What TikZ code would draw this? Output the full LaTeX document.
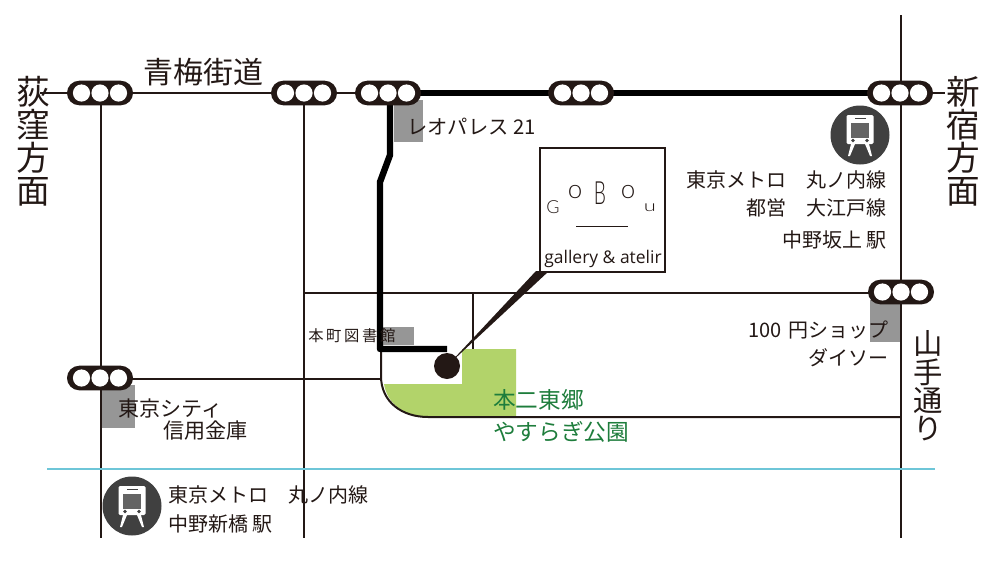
\documentclass[tikz,border=0pt]{standalone}
\usepackage{fontspec}
\setmainfont{Noto Sans CJK JP}
\newfontfamily\logofont{Lato Light}
\newfontfamily\latinfont{Open Sans}
\usepackage{tikz}
\usetikzlibrary{positioning,calc}
\definecolor{signalcolor}{RGB}{35,24,21}
\definecolor{iconcolor}{RGB}{64,64,64}
\definecolor{windowcolor}{RGB}{100,100,100}
\definecolor{shopcolor}{RGB}{150,150,150}
\definecolor{parkcolor}{RGB}{178,211,106}
\definecolor{parktext}{RGB}{30,125,60}
\definecolor{rivercolor}{RGB}{110,198,216}
\newcommand{\sized}[1]{\fontsize{#1}{#1}\selectfont}
\tikzset{
    road/.style={draw=signalcolor, line width=1.5pt},
    route/.style={draw=black, line width=4.8pt, line join=round},
    shop/.style={fill=shopcolor},
    lbl/.style={inner sep=0pt, text=signalcolor, font=\sized{15pt}},
    vlbl/.style={inner sep=0pt, text=signalcolor, align=center, font=\fontsize{25.2pt}{24.8pt}\selectfont},
    logoletter/.style={inner sep=0pt, text=signalcolor, font=\logofont\sized{19.5pt}},
    pics/signal/.style={code={
        \fill[signalcolor, rounded corners=9.2pt] (-33,-12.3) rectangle (33,12.3);
        \foreach \dx in {-18.5,0,18.5} {
            \fill[white] (\dx,0) circle (8.6);
        }
    }},
    pics/trainicon/.style={code={
        \fill[iconcolor] (0,0) circle (29.5);
        \fill[white, rounded corners=1pt] (-13.5,-20) rectangle (13.5,9);
        \fill[windowcolor] (-9,-12.5) rectangle (9,3);
        \fill[iconcolor] (-5.5,-17.5) rectangle (5.5,-16);
        \fill[iconcolor] (-7,5.5) circle (1.9);
        \fill[iconcolor] (7,5.5) circle (1.9);
        \fill[white] (-9,9) -- (-5,9) -- (-10,21) -- (-12,21) -- cycle;
        \fill[white] (9,9) -- (5,9) -- (10,21) -- (12,21) -- cycle;
    }},
}
\begin{document}
\begin{tikzpicture}[x=0.75pt, y=-0.75pt]

    \useasboundingbox (0,0) rectangle (1000,561);

    % ---------------------------------------------------------------
    % PARK AND SHOP MARKERS
    % ---------------------------------------------------------------

    \fill[parkcolor] (384,384) -- (462,384) -- (462,349) -- (516,349) -- (516,416) -- (424,416)
        .. controls (402,416) and (387,402) .. cycle;
    \fill[shop] (394,100) rectangle (423,142);
    \fill[shop] (870,300) rectangle (901,342);
    \fill[shop] (101,385) rectangle (135,428);
    \fill[shop] (381,326.5) rectangle (414,345);

    % ---------------------------------------------------------------
    % ROADS
    % ---------------------------------------------------------------

    \draw[road] (40,93) -- (945,93);
    \foreach \x in {101,304} {
        \draw[road] (\x,93) -- (\x,538);
    }
    \draw[road] (901,15) -- (901,538);
    \draw[road] (304,293) -- (901,293);
    \draw[road] (473,293) -- (473,349);
    \draw[road] (101,378.5) -- (381,378.5);
    \draw[road] (381,293) -- (381,376) .. controls (381,402) and (402,417) .. (428,417) -- (901,417);
    \draw[rivercolor, line width=1.5pt] (47,468.5) -- (935,468.5);

    % ---------------------------------------------------------------
    % ROUTE
    % ---------------------------------------------------------------

    \draw[route] (390,93) -- (900,93);
    \draw[route] (390,93) -- (390,155) -- (380,182) -- (380,349) -- (447,349);
    \fill[signalcolor] (447,366) -- (536,271) -- (549,271) -- cycle;
    \fill[signalcolor] (447,366) circle (13);

    % ---------------------------------------------------------------
    % SIGNALS
    % ---------------------------------------------------------------

    \foreach \x/\y in {100/93,304/93,388/93,581/93,900/93,901/292,100/378} {
        \pic at (\x,\y) {signal};
    }

    % ---------------------------------------------------------------
    % STATIONS
    % ---------------------------------------------------------------

    \pic at (860,135) {trainicon};
    \pic at (132,506) {trainicon};

    % ---------------------------------------------------------------
    % LOGO BOX
    % ---------------------------------------------------------------

    \draw[signalcolor, line width=1.5pt, fill=white] (540,148) rectangle (665,272);
    \node[logoletter, font=\logofont\sized{13.5pt}] (logoG) at (553,207) {G};
    \node[logoletter] (logoOa) at (575,192) {o};
    \node[logoletter, font=\logofont\sized{24pt}, xscale=0.6] (logoB) at (600,193) {B};
    \node[logoletter] (logoOb) at (628,192) {o};
    \node[logoletter, font=\logofont\sized{16.5pt}, yscale=0.7] (logoU) at (650,208) {u};
    \draw[signalcolor, line width=0.6pt] (576,226) -- (628,226);
    \node[lbl, font=\latinfont\sized{13.1pt}] (gallery) at (603,259) {gallery \& atelir};

    % ---------------------------------------------------------------
    % LABELS
    % ---------------------------------------------------------------

    \node[lbl, font=\sized{22.5pt}] (oume) at (203,72) {青梅街道};
    \node[vlbl] (ogikubo) at (33,141) {荻\\窪\\方\\面};
    \node[vlbl] (shinjuku) at (963,141) {新\\宿\\方\\面};
    \node[vlbl, font=\fontsize{22pt}{21.2pt}\selectfont] (yamate) at (928,386) {山\\手\\通\\り};

    \node[lbl, font=\sized{15.2pt}, anchor=west] (leo) at (407,127) {レオパレス 21};

    \node[lbl, anchor=east] (metroa) at (887,180) {東京メトロ　丸ノ内線};
    \node[lbl, anchor=east] (toei) at (887,208) {都営　大江戸線};
    \node[lbl, anchor=east] (nakano) at (887,240) {中野坂上 駅};

    \node[lbl, anchor=east] (daiso) at (889,330) {100\hspace{5pt}円ショップ};
    \node[lbl, anchor=east] (daisob) at (889,358) {ダイソー};

    \node[lbl, font=\sized{11.5pt}\addfontfeature{LetterSpace=17}, anchor=west] (library) at (308,336) {本町図書館};

    \node[lbl, font=\sized{15.8pt}, anchor=west] (shinkin) at (118,408) {東京シティ};
    \node[lbl, font=\sized{15.8pt}, anchor=west] (shinkinb) at (163,431) {信用金庫};

    \node[lbl, anchor=west] (metrob) at (168,495) {東京メトロ　丸ノ内線};
    \node[lbl, anchor=west] (shinbashi) at (168,524) {中野新橋 駅};

    \node[lbl, text=parktext, font=\sized{17pt}, anchor=west] (park) at (493,400) {本二東郷};
    \node[lbl, text=parktext, font=\sized{17pt}, anchor=west] (parkb) at (493,432) {やすらぎ公園};

\end{tikzpicture}
\end{document}
